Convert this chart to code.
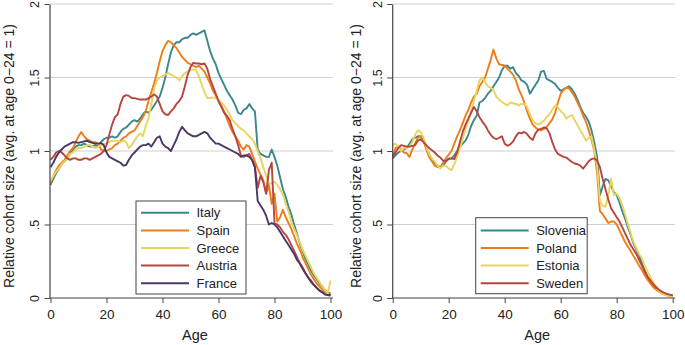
<!DOCTYPE html>
<html>
<head>
<meta charset="utf-8">
<script src="https://cdn.jsdelivr.net/npm/d3@7"></script>
<style>
  body { margin: 0; background: #fff; }
  svg { display: block; font-family: 'Liberation Sans', Arial, sans-serif; }
</style>
</head>
<body>
<div id="chart"></div>
<script>
// ages 0..100
const ages = d3.range(0, 101)

const xTicks = [0, 20, 40, 60, 80, 100]
const yTicks = [0, 0.5, 1, 1.5, 2]
const yTickLabels = ['0', '.5', '1', '1.5', '2']

const leftNames = ['Italy', 'Spain', 'Greece', 'Austria', 'France']
const rightNames = ['Slovenia', 'Poland', 'Estonia', 'Sweden']

const italy = [0.77, 0.81, 0.85, 0.88, 0.91, 0.93, 0.95, 0.98, 1.01, 1.03, 1.04, 1.04, 1.05, 1.04, 1.03, 1.03, 1.04, 1.03, 1.06, 1.08,
  1.09, 1.09, 1.10, 1.09, 1.10, 1.13, 1.15, 1.16, 1.18, 1.20, 1.21, 1.20, 1.22, 1.25, 1.27, 1.26, 1.28, 1.31, 1.34, 1.37,
  1.43, 1.50, 1.59, 1.67, 1.72, 1.74, 1.74, 1.76, 1.77, 1.77, 1.79, 1.80, 1.79, 1.80, 1.81, 1.82, 1.75, 1.68, 1.63, 1.59,
  1.53, 1.49, 1.45, 1.41, 1.38, 1.35, 1.31, 1.26, 1.25, 1.28, 1.29, 1.32, 1.29, 1.27, 1.01, 0.98, 0.97, 0.96, 0.96, 1.01,
  0.96, 0.90, 0.82, 0.74, 0.69, 0.62, 0.57, 0.50, 0.44, 0.37, 0.32, 0.27, 0.23, 0.19, 0.155, 0.13, 0.10, 0.08, 0.055, 0.04, 0.03]

const spain = [0.78, 0.83, 0.87, 0.90, 0.92, 0.94, 0.97, 1.00, 1.02, 1.06, 1.10, 1.13, 1.10, 1.08, 1.07, 1.06, 1.06, 1.05, 1.01, 1.00,
  1.00, 1.01, 1.02, 1.04, 1.05, 1.07, 1.09, 1.10, 1.12, 1.13, 1.14, 1.17, 1.20, 1.23, 1.27, 1.34, 1.40, 1.46, 1.53, 1.61,
  1.68, 1.72, 1.75, 1.74, 1.72, 1.70, 1.67, 1.64, 1.62, 1.60, 1.59, 1.58, 1.57, 1.58, 1.56, 1.54, 1.50, 1.46, 1.41, 1.38,
  1.34, 1.31, 1.27, 1.22, 1.17, 1.13, 1.10, 1.07, 1.03, 1.01, 1.04, 1.03, 0.98, 0.93, 0.88, 0.84, 0.80, 0.71, 0.77, 0.64,
  0.71, 0.52, 0.55, 0.60, 0.55, 0.51, 0.47, 0.42, 0.37, 0.33, 0.28, 0.24, 0.20, 0.16, 0.13, 0.10, 0.08, 0.06, 0.04, 0.03, 0.02]

const greece = [0.80, 0.83, 0.86, 0.88, 0.91, 0.93, 0.95, 0.98, 0.99, 1.01, 1.02, 1.02, 1.03, 1.04, 1.04, 1.03, 1.02, 1.03, 1.04, 1.05,
  1.05, 1.06, 1.07, 1.07, 1.07, 1.06, 1.07, 1.06, 1.02, 1.04, 1.07, 1.10, 1.12, 1.10, 1.17, 1.22, 1.32, 1.42, 1.48, 1.50,
  1.51, 1.52, 1.53, 1.52, 1.51, 1.50, 1.48, 1.51, 1.53, 1.54, 1.55, 1.555, 1.55, 1.51, 1.45, 1.40, 1.36, 1.36, 1.365, 1.36,
  1.35, 1.33, 1.31, 1.28, 1.25, 1.21, 1.19, 1.17, 1.15, 1.14, 1.12, 1.10, 1.08, 1.05, 1.00, 0.95, 0.89, 0.83, 0.78, 0.78,
  0.79, 0.77, 0.74, 0.70, 0.64, 0.59, 0.52, 0.47, 0.43, 0.38, 0.33, 0.29, 0.25, 0.21, 0.17, 0.14, 0.11, 0.08, 0.055, 0.03, 0.12]

const austria = [0.94, 0.96, 0.99, 1.00, 0.99, 0.97, 0.95, 0.94, 0.95, 0.95, 0.94, 0.94, 0.95, 0.95, 0.94, 0.95, 0.96, 0.97, 0.98, 1.00,
  1.04, 1.11, 1.18, 1.23, 1.25, 1.32, 1.37, 1.38, 1.375, 1.36, 1.36, 1.355, 1.35, 1.35, 1.35, 1.36, 1.37, 1.385, 1.37, 1.32,
  1.27, 1.25, 1.245, 1.27, 1.29, 1.32, 1.34, 1.37, 1.44, 1.52, 1.57, 1.60, 1.595, 1.595, 1.59, 1.595, 1.56, 1.49, 1.44, 1.39,
  1.34, 1.30, 1.26, 1.24, 1.21, 1.15, 1.10, 1.04, 0.97, 0.96, 0.97, 0.98, 0.94, 0.89, 0.75, 0.83, 0.79, 0.71, 0.87, 0.92,
  0.51, 0.50, 0.48, 0.45, 0.43, 0.40, 0.36, 0.32, 0.28, 0.24, 0.21, 0.17, 0.14, 0.12, 0.09, 0.07, 0.055, 0.04, 0.025, 0.02, 0.015]

const france = [0.89, 0.92, 0.96, 0.99, 1.01, 1.03, 1.04, 1.05, 1.06, 1.06, 1.055, 1.06, 1.065, 1.07, 1.06, 1.055, 1.05, 1.05, 1.055, 1.04,
  0.99, 0.96, 0.95, 0.94, 0.93, 0.92, 0.90, 0.905, 0.94, 0.97, 0.99, 1.01, 1.03, 1.04, 1.04, 1.05, 1.03, 1.06, 1.09, 1.10,
  1.05, 1.03, 1.02, 1.00, 1.04, 1.08, 1.13, 1.165, 1.14, 1.12, 1.11, 1.10, 1.10, 1.11, 1.12, 1.13, 1.12, 1.09, 1.07, 1.05,
  1.05, 1.04, 1.03, 1.02, 1.01, 1.00, 0.99, 0.98, 0.96, 0.97, 0.97, 0.96, 0.94, 0.89, 0.66, 0.63, 0.60, 0.56, 0.50, 0.51,
  0.50, 0.48, 0.45, 0.42, 0.39, 0.36, 0.33, 0.30, 0.26, 0.235, 0.20, 0.17, 0.14, 0.11, 0.09, 0.07, 0.05, 0.04, 0.025, 0.02, 0.02]

const slovenia = [0.95, 0.97, 0.99, 1.00, 1.01, 1.02, 1.05, 1.08, 1.09, 1.10, 1.10, 1.07, 1.02, 0.98, 0.94, 0.92, 0.90, 0.89, 0.90, 0.93,
  0.95, 0.95, 0.97, 1.00, 1.03, 1.05, 1.07, 1.11, 1.17, 1.21, 1.24, 1.33, 1.34, 1.36, 1.39, 1.41, 1.44, 1.47, 1.50, 1.55,
  1.58, 1.58, 1.56, 1.57, 1.53, 1.51, 1.48, 1.47, 1.45, 1.39, 1.42, 1.45, 1.48, 1.54, 1.545, 1.49, 1.48, 1.47, 1.455, 1.43,
  1.41, 1.42, 1.43, 1.44, 1.42, 1.39, 1.35, 1.30, 1.26, 1.235, 1.20, 1.14, 1.06, 0.96, 0.70, 0.76, 0.81, 0.80, 0.76, 0.72,
  0.70, 0.65, 0.59, 0.54, 0.48, 0.43, 0.37, 0.33, 0.29, 0.24, 0.19, 0.145, 0.115, 0.09, 0.07, 0.05, 0.04, 0.03, 0.02, 0.017, 0.014]

const poland = [0.96, 1.02, 1.03, 1.01, 0.99, 0.985, 0.96, 1.01, 1.05, 1.09, 1.10, 1.07, 1.01, 0.96, 0.93, 0.90, 0.89, 0.89, 0.92, 0.95,
  0.975, 1.00, 1.05, 1.10, 1.14, 1.19, 1.24, 1.28, 1.33, 1.37, 1.39, 1.44, 1.47, 1.50, 1.56, 1.62, 1.69, 1.63, 1.59, 1.585,
  1.58, 1.56, 1.54, 1.52, 1.48, 1.42, 1.38, 1.33, 1.27, 1.22, 1.18, 1.16, 1.145, 1.14, 1.15, 1.165, 1.19, 1.215, 1.26, 1.33,
  1.39, 1.415, 1.43, 1.425, 1.40, 1.37, 1.33, 1.29, 1.24, 1.20, 1.14, 1.08, 1.00, 0.85, 0.59, 0.57, 0.54, 0.51, 0.52, 0.52,
  0.50, 0.46, 0.42, 0.38, 0.35, 0.32, 0.285, 0.255, 0.22, 0.19, 0.155, 0.125, 0.10, 0.075, 0.058, 0.045, 0.032, 0.024, 0.02, 0.016, 0.014]

const estonia = [1.04, 1.05, 1.03, 1.00, 1.02, 1.02, 1.03, 1.06, 1.11, 1.14, 1.13, 1.09, 1.03, 0.98, 0.95, 0.93, 0.90, 0.88, 0.90, 0.90,
  0.88, 0.87, 0.91, 0.96, 1.02, 1.08, 1.15, 1.20, 1.27, 1.34, 1.41, 1.48, 1.50, 1.47, 1.44, 1.43, 1.415, 1.37, 1.35, 1.335,
  1.32, 1.31, 1.33, 1.325, 1.32, 1.31, 1.32, 1.32, 1.30, 1.25, 1.21, 1.19, 1.18, 1.19, 1.205, 1.23, 1.25, 1.28, 1.31, 1.30,
  1.27, 1.255, 1.22, 1.235, 1.245, 1.21, 1.175, 1.14, 1.11, 1.07, 1.09, 1.10, 1.01, 0.90, 0.66, 0.63, 0.62, 0.70, 0.81, 0.70,
  0.71, 0.68, 0.63, 0.57, 0.50, 0.44, 0.38, 0.34, 0.30, 0.27, 0.22, 0.18, 0.145, 0.11, 0.08, 0.05, 0.035, 0.022, 0.015, 0.01, 0.006]

const sweden = [0.96, 0.99, 1.02, 1.04, 1.035, 1.03, 1.03, 1.035, 1.04, 1.07, 1.08, 1.06, 1.04, 1.02, 1.005, 0.99, 0.97, 0.955, 0.935, 0.93,
  0.945, 0.95, 0.945, 0.99, 1.06, 1.13, 1.18, 1.22, 1.26, 1.30, 1.27, 1.23, 1.20, 1.175, 1.14, 1.11, 1.09, 1.08, 1.09, 1.10,
  1.05, 1.035, 1.045, 1.065, 1.10, 1.125, 1.12, 1.13, 1.115, 1.09, 1.075, 1.12, 1.145, 1.15, 1.16, 1.155, 1.12, 1.06, 1.01, 0.98,
  0.97, 0.96, 0.955, 0.94, 0.925, 0.915, 0.91, 0.90, 0.88, 0.905, 0.93, 0.945, 0.95, 0.935, 0.89, 0.81, 0.74, 0.67, 0.61, 0.58,
  0.55, 0.52, 0.48, 0.44, 0.40, 0.36, 0.33, 0.30, 0.26, 0.22, 0.18, 0.145, 0.12, 0.095, 0.075, 0.058, 0.045, 0.035, 0.028, 0.023, 0.02]

const leftSeries = [italy, spain, greece, austria, france]
const rightSeries = [slovenia, poland, estonia, sweden]

const colors = ['#3b878d', '#ee7d18', '#e9d55e', '#b6463e', '#4c3767']
const rightColors = ['#3b878d', '#ee7d18', '#e9d55e', '#b6463e']

const width = 685
const height = 345

const svg = d3
  .select('#chart')
  .append('svg')
  .attr('width', width)
  .attr('height', height)

const yPositionScale = d3
  .scaleLinear()
  .domain([0, 2])
  .range([298, 4])

function drawPanel(opts) {
  const xPositionScale = d3
    .scaleLinear()
    .domain([0, 100])
    .range([opts.x0, opts.x0 + 280])

  const g = svg.append('g')

  // gridlines
  g.selectAll('.grid')
    .data(yTicks.filter(d => d > 0))
    .enter()
    .append('line')
    .attr('class', 'grid')
    .attr('x1', opts.axisX)
    .attr('x2', opts.x0 + 282.5)
    .attr('y1', d => yPositionScale(d))
    .attr('y2', d => yPositionScale(d))
    .attr('stroke', '#cfcfcf')
    .attr('stroke-width', 1.1)

  const line = d3
    .line()
    .x((d, i) => xPositionScale(ages[i]))
    .y(d => yPositionScale(d))

  g.selectAll('.series')
    .data(opts.series)
    .enter()
    .append('path')
    .attr('class', 'series')
    .attr('d', line)
    .attr('fill', 'none')
    .attr('stroke', (d, i) => opts.colors[i])
    .attr('stroke-width', 1.9)
    .attr('stroke-linejoin', 'round')

  // axes
  const yAxis = d3
    .axisLeft(yPositionScale)
    .tickValues(yTicks)
    .tickFormat((d, i) => yTickLabels[i])
    .tickSize(5)
    .tickSizeOuter(0)
  const yg = g
    .append('g')
    .attr('transform', 'translate(' + opts.axisX + ',0)')
    .call(yAxis)
  yg.select('.domain').attr('stroke', '#444').attr('stroke-width', 1.2)
  yg.selectAll('.tick line').attr('stroke', '#444')
  yg.selectAll('.tick text')
    .attr('font-size', 12.5)
    .attr('fill', '#222')
    .attr('x', null)
    .attr('dy', null)
    .attr('text-anchor', 'middle')
    .attr('transform', 'translate(-10.5,0) rotate(-90)')

  const xAxis = d3
    .axisBottom(xPositionScale)
    .tickValues(xTicks)
    .tickSize(5)
    .tickSizeOuter(0)
  const xg = g.append('g').attr('transform', 'translate(0,298)').call(xAxis)
  xg.select('.domain')
    .attr('d', 'M' + opts.axisX + ',0H' + (opts.x0 + 282.5))
    .attr('stroke', '#444')
    .attr('stroke-width', 1.2)
  xg.selectAll('.tick line').attr('stroke', '#444')
  xg.selectAll('.tick text')
    .attr('font-size', 13.5)
    .attr('fill', '#222')
    .attr('y', 20.5)
    .attr('dy', null)

  g.append('text')
    .attr('x', opts.x0 + 144.5)
    .attr('y', 340)
    .attr('text-anchor', 'middle')
    .attr('font-size', 14.5)
    .attr('fill', '#222')
    .text('Age')

  g.append('text')
    .attr('transform', 'translate(' + opts.titleX + ',156) rotate(-90)')
    .attr('text-anchor', 'middle')
    .attr('font-size', 14)
    .attr('fill', '#222')
    .text('Relative cohort size (avg. at age 0\u221224 = 1)')

  // legend
  const lg = g.append('g')
  lg.append('rect')
    .attr('x', opts.legend.x)
    .attr('y', opts.legend.y)
    .attr('width', opts.legend.w)
    .attr('height', opts.legend.h)
    .attr('fill', '#fff')
    .attr('stroke', '#444')
    .attr('stroke-width', 1)

  const items = lg
    .selectAll('.item')
    .data(opts.names)
    .enter()
    .append('g')
    .attr('class', 'item')
    .attr('transform', (d, i) => 'translate(0,' + (opts.legend.firstY + i * 17.6) + ')')
  items
    .append('line')
    .attr('x1', opts.legend.x + 5)
    .attr('x2', opts.legend.x + 53)
    .attr('stroke', (d, i) => opts.colors[i])
    .attr('stroke-width', 2)
  items
    .append('text')
    .attr('x', opts.legend.x + 60.5)
    .attr('y', 4.6)
    .attr('font-size', 13)
    .attr('fill', '#222')
    .text(d => d)
}

drawPanel({
  x0: 50.5,
  axisX: 49.5,
  titleX: 13.5,
  series: leftSeries,
  colors: colors,
  names: leftNames,
  legend: { x: 136, y: 201, w: 110, h: 93, firstY: 212.8 }
})

drawPanel({
  x0: 392.7,
  axisX: 392.2,
  titleX: 360.7,
  series: rightSeries,
  colors: rightColors,
  names: rightNames,
  legend: { x: 475.7, y: 217.7, w: 111.5, h: 76, firstY: 230.4 }
})
</script>
</body>
</html>
